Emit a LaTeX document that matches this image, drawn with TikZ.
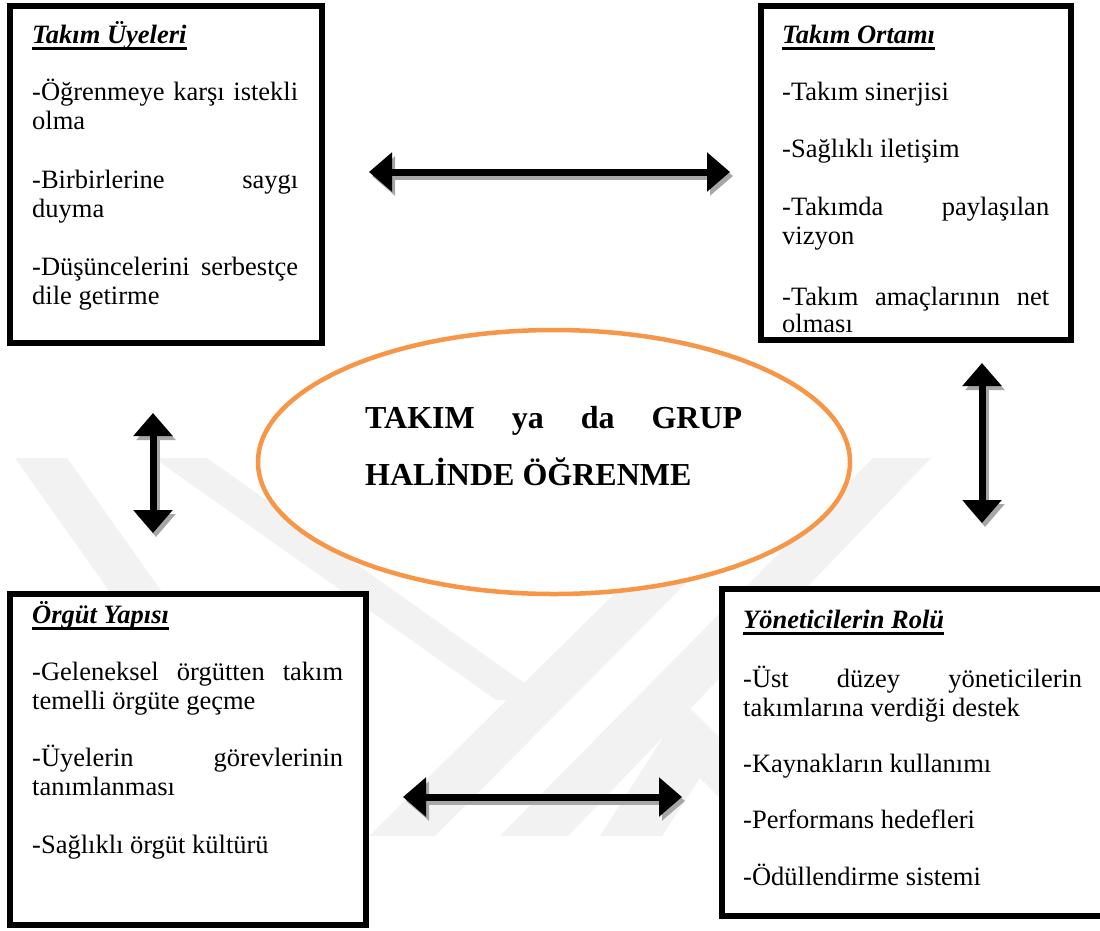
\documentclass[tikz,border=0pt]{standalone}
\usepackage{fontspec}
\IfFontExistsTF{LiberationSerif-Regular.ttf}{%
  \setmainfont{LiberationSerif}[Extension=.ttf,
    UprightFont=*-Regular, BoldFont=*-Bold,
    ItalicFont=*-Italic, BoldItalicFont=*-BoldItalic]}{%
  \setmainfont{Liberation Serif}}
\usetikzlibrary{arrows.meta,shapes.geometric,calc}

\definecolor{ringorange}{HTML}{F79646}
\definecolor{markgray}{HTML}{F2F2F2}
\definecolor{shadowgray}{HTML}{A6A6A6}

\newcommand\bodyfont{\rmfamily\fontsize{26.5}{29.5}\selectfont}
\newcommand\headul[1]{\setbox0\hbox{\bfseries\itshape #1}\rlap{\rule[-6.5pt]{\wd0}{2.8pt}}\box0}

\begin{document}
\begin{tikzpicture}[x=1pt,y=-1pt,
  panel/.style={draw=black, line width=6pt, fill=white},
  ring/.style={draw=ringorange, line width=4.5pt, fill=white},
  head/.style={anchor=base west, inner sep=0pt, font=\bodyfont},
  body/.style={anchor=base west, inner sep=0pt, align=justify, font=\bodyfont},
  bigtip/.tip={Triangle[length=23pt,width=38pt]},
  dblarrow/.style={line width=7pt, bigtip-bigtip},
  arrowshade/.style={dblarrow, draw=shadowgray}]

\useasboundingbox (0,0) rectangle (1100,930);
\fill[white] (0,0) rectangle (1100,930);

% faint background emblem
\fill[markgray] (15,458) -- (67,458) -- (196,640) -- (144,640) -- cycle;
\fill[markgray] (154,458) -- (207,458) -- (548,700) -- (496,700) -- cycle;
\fill[markgray] (369,836) -- (435,836) -- (810,458) -- (752,458) -- cycle;
\fill[markgray] (500,836) -- (568,836) -- (931,458) -- (873,458) -- cycle;
\fill[markgray] (600,836) -- (685,703) -- (730,748) -- (730,808) -- (700,778) -- (662,836) -- cycle;

% four panels
\draw[panel] (10,6) rectangle (322,343);
\draw[panel] (761,6) rectangle (1071,340);
\draw[panel] (10,594) rectangle (366,925);
\draw[panel] (722,589) rectangle (1106,916);

% central ellipse
\node[ring, ellipse, minimum width=592pt, minimum height=264pt, inner sep=0pt] (core) at (554,462) {};
\node[anchor=base west, inner sep=0pt, text width=377pt, align=justify,
      font=\rmfamily\fontsize{32}{57}\selectfont\bfseries] (coretxt) at (365,428)
  {TAKIM ya da GRUP\linebreak HALİNDE ÖĞRENME};

% panel: team members
\node[head] (t1) at (32,43) {\headul{Takım Üyeleri}};
\node[body, text width=266pt] (t1a) at (32,100) {-Öğrenmeye karşı istekli\linebreak olma};
\node[body, text width=266pt] (t1b) at (32,188) {-Birbirlerine saygı\linebreak duyma};
\node[body, text width=266pt] (t1c) at (32,275) {-Düşüncelerini serbestçe\linebreak dile getirme};

% panel: team environment
\node[head] (t2) at (782,43) {\headul{Takım Ortamı}};
\node[body, text width=267pt] (t2a) at (782,100) {-Takım sinerjisi};
\node[body, text width=267pt] (t2b) at (782,157) {-Sağlıklı iletişim};
\node[body, text width=267pt] (t2c) at (782,215) {-Takımda paylaşılan\linebreak vizyon};
\node[body, text width=267pt, font=\rmfamily\fontsize{26.5}{27.5}\selectfont] (t2d) at (782,305)
  {-Takım amaçlarının net\linebreak olması};

% panel: organisational structure
\node[head] (t3) at (32,623) {\headul{Örgüt Yapısı}};
\node[body, text width=311pt] (t3a) at (32,680) {-Geleneksel örgütten takım\linebreak temelli örgüte geçme};
\node[body, text width=311pt] (t3b) at (32,766) {-Üyelerin görevlerinin\linebreak tanımlanması};
\node[body, text width=311pt] (t3c) at (32,853) {-Sağlıklı örgüt kültürü};

% panel: role of managers
\node[head] (t4) at (743,628) {\headul{Yöneticilerin Rolü}};
\node[body, text width=339pt] (t4a) at (743,687) {-Üst düzey yöneticilerin\linebreak takımlarına verdiği destek};
\node[body, text width=339pt] (t4b) at (743,772) {-Kaynakların kullanımı};
\node[body, text width=339pt] (t4c) at (743,828) {-Performans hedefleri};
\node[body, text width=339pt] (t4d) at (743,885) {-Ödüllendirme sistemi};

% arrow end points
\coordinate (upL) at (369,172);
\coordinate (upR) at (730,172);
\coordinate (loL) at (403,797);
\coordinate (loR) at (682,797);
\coordinate (leT) at (153,413);
\coordinate (leB) at (153,533);
\coordinate (riT) at (982,363);
\coordinate (riB) at (982,523);

% drop shadows, offset 3 right and 4 down
\draw[arrowshade] ($(upL)+(3,4)$) -- ($(upR)+(3,4)$);
\draw[arrowshade] ($(loL)+(3,4)$) -- ($(loR)+(3,4)$);
\draw[arrowshade] ($(leT)+(3,4)$) -- ($(leB)+(3,4)$);
\draw[arrowshade] ($(riT)+(3,4)$) -- ($(riB)+(3,4)$);

\draw[dblarrow] (upL) -- (upR);
\draw[dblarrow] (loL) -- (loR);
\draw[dblarrow] (leT) -- (leB);
\draw[dblarrow] (riT) -- (riB);
\end{tikzpicture}
\end{document}
